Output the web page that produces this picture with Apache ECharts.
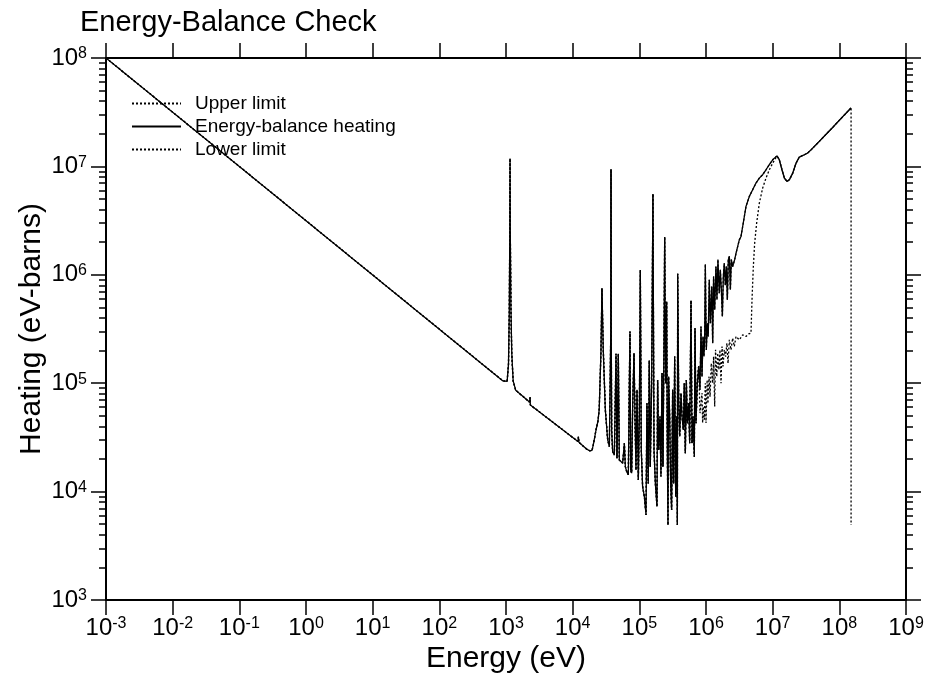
<!DOCTYPE html>
<html>
<head>
<meta charset="utf-8">
<title>Energy-Balance Check</title>
<script src="https://cdn.jsdelivr.net/npm/echarts@6/dist/echarts.min.js"></script>
<style>
  html, body { margin: 0; padding: 0; background: #fff; }
  #chart { width: 937px; height: 684px; }
</style>
</head>
<body>
<div id="chart"></div>
<script>
// Heating (eV-barns) against incident energy (eV).
// Shared part: 1/v region, resolved resonances and the unresolved band up to ~0.8 MeV.
const baseEnergy = [
  1e-3, 900, 960, 1040, 1090, 1120, 1140, 1150, 1160, 1185, 1220, 1280, 1400,
  2250, 2300, 2320, 2400, 1.2e4, 1.22e4, 1.24e4, 1.6e4, 1.8e4, 1.95e4,
  2.04e4, 2.24e4, 2.4e4, 2.5e4, 2.66e4, 2.75e4, 2.88e4, 3.09e4, 3.35e4, 3.55e4,
  3.68e4, 3.73e4, 3.76e4, 3.79e4, 3.85e4, 3.98e4,
  4.22e4, 4.47e4, 4.62e4, 4.84e4, 5.01e4, 5.31e4, 5.62e4, 5.96e4, 6.17e4, 6.46e4,
  6.84e4, 7.08e4, 7.24e4, 7.41e4, 7.67e4, 7.94e4, 8.32e4, 8.61e4, 8.91e4, 9.23e4,
  9.66e4, 1.0e5, 1.035e5, 1.07e5, 1.12e5, 1.19e5, 1.26e5, 1.30e5, 1.36e5, 1.41e5,
  1.46e5, 1.53e5, 1.60e5, 1.66e5, 1.74e5, 1.84e5, 1.88e5, 1.95e5, 2.04e5, 2.11e5,
  2.19e5, 2.26e5, 2.34e5, 2.40e5, 2.48e5, 2.57e5, 2.63e5, 2.69e5, 2.75e5, 2.85e5,
  2.95e5, 3.05e5, 3.16e5, 3.27e5, 3.39e5, 3.51e5, 3.63e5, 3.72e5, 3.76e5, 3.89e5,
  4.03e5, 4.22e5, 4.37e5, 4.57e5, 4.73e5, 4.90e5, 5.07e5, 5.25e5, 5.50e5, 5.69e5,
  5.96e5, 6.17e5, 6.38e5, 6.68e5, 6.84e5, 7.08e5, 7.41e5, 7.76e5
];
const baseHeating = [
  1e8, 1.05e5, 1.01e5, 1.04e5, 1.5e5, 4.5e5, 2.5e6, 1.18e7, 2.5e6, 5e5, 1.9e5, 1.05e5, 8.6e4,
  6.7e4, 7.4e4, 6.3e4, 6.45e4, 2.9e4, 3.2e4, 2.85e4, 2.48e4, 2.38e4, 2.4e4,
  2.7e4, 3.7e4, 4.5e4, 5.7e4, 2.0e5, 7.5e5, 2.0e5, 5.7e4, 3.0e4, 2.6e4,
  2.7e4, 3e5, 9.4e6, 3e5, 3.6e4, 2.34e4,
  2.18e4, 1.87e5, 2.03e4, 1.87e5, 1.96e4, 1.89e4, 1.83e4, 2.79e4, 1.70e4, 1.53e4,
  1.43e4, 1.0e5, 3.0e5, 1.58e4, 1.48e4, 6.09e4, 1.89e5, 4.92e4, 1.58e4, 8.68e4,
  1.28e4, 4.92e4, 1.11e6, 2.42e4, 1.11e4, 8.99e3, 6.09e3, 6.53e4, 1.19e4, 1.62e5,
  1.7e4, 1.0e5, 5.56e6, 2.42e4, 1.19e4, 7.27e3, 1.07e5, 2.42e4, 4.92e4, 1.38e4,
  1.24e5, 1.70e4, 2.03e5, 2.23e6, 1.0e5, 5.67e5, 2.42e4, 4.92e3, 1.15e5, 4.92e4,
  1.19e4, 6.77e3, 8.68e4, 1.19e4, 1.76e5, 8.99e3, 4.92e4, 4.92e3, 1.02e6, 7.53e4,
  3.22e4, 8.09e4, 4.92e4, 3.71e4, 1.0e5, 2.26e4, 1.07e5, 4.27e4, 6.53e4, 2.79e4,
  5.79e5, 2.79e4, 4.92e4, 2.10e4, 3.22e5, 4.27e4, 1.0e5, 1.43e5
];

// Energy-balance heating between 0.8 MeV and 10 MeV.
const heatingMidEnergy = [
  8.13e5, 8.41e5, 8.71e5, 9.02e5, 9.33e5, 9.55e5, 9.77e5, 1.01e6, 1.05e6, 1.08e6,
  1.12e6, 1.16e6, 1.22e6, 1.26e6, 1.30e6, 1.35e6, 1.41e6, 1.46e6, 1.51e6, 1.58e6,
  1.64e6, 1.70e6, 1.76e6, 1.82e6, 1.88e6, 1.95e6, 2.02e6, 2.09e6, 2.16e6, 2.24e6,
  2.32e6, 2.40e6, 2.51e6, 2.60e6, 2.69e6, 2.82e6, 2.99e6, 3.16e6, 3.35e6, 3.55e6,
  3.76e6, 3.98e6, 4.47e6, 5.01e6, 5.62e6, 6.31e6, 7.08e6, 7.94e6, 8.91e6, 1.0e7
];
const heatingMidValue = [
  8.68e4, 3.33e5, 1.15e5, 2.70e5, 1.76e5, 2.70e5, 1.25e6, 2.03e5, 3.58e5, 2.70e5,
  8.99e5, 3.58e5, 7.80e5, 2.34e5, 9.66e5, 4.75e5, 1.19e6, 5.88e5, 1.38e6, 6.77e5,
  1.11e6, 7.27e5, 4.12e5, 9.66e5, 1.28e6, 8.0e5, 1.19e6, 5.88e5, 1.38e6, 1.48e6,
  7.27e5, 1.38e6, 1.19e6, 1.28e6, 1.38e6, 1.58e6, 1.83e6, 2.10e6, 2.26e6, 2.79e6,
  3.45e6, 4.27e6, 5.29e6, 6.09e6, 7.02e6, 7.80e6, 8.38e6, 9.31e6, 1.04e7, 1.15e7
];

// Lower limit between 0.8 MeV and 10 MeV.
const lowerMidEnergy = [
  8.13e5, 8.41e5, 8.71e5, 8.9e5, 9.12e5, 9.45e5, 9.77e5, 1.0e6, 1.04e6, 1.07e6,
  1.11e6, 1.15e6, 1.2e6, 1.26e6, 1.30e6, 1.35e6, 1.39e6, 1.45e6, 1.50e6, 1.56e6,
  1.62e6, 1.68e6, 1.74e6, 1.8e6, 1.88e6, 1.97e6, 2.06e6, 2.14e6, 2.24e6, 2.37e6,
  2.51e6, 2.66e6, 2.82e6, 3.16e6, 3.55e6, 3.98e6, 4.37e6, 4.73e6, 4.90e6, 5.13e6,
  5.37e6, 5.75e6, 6.31e6, 7.08e6, 7.94e6, 8.91e6, 1.0e7
];
const lowerMidValue = [
  5.3e4, 6.5e4, 8.1e4, 4.3e4, 6.1e4, 4.6e4, 1.0e5, 4.3e4, 1.07e5, 6.5e4,
  1.15e5, 7.5e4, 1.53e5, 1.0e5, 1.76e5, 6.1e4, 2.03e5, 1.15e5, 1.89e5, 1.33e5,
  2.03e5, 1.0e5, 2.18e5, 1.43e5, 2.03e5, 1.76e5, 2.34e5, 1.53e5, 2.51e5, 2.03e5,
  2.60e5, 2.18e5, 2.70e5, 2.51e5, 2.79e5, 2.70e5, 2.85e5, 2.90e5, 5.88e5, 1.19e6,
  1.96e6, 3.0e6, 4.59e6, 6.31e6, 7.80e6, 9.31e6, 1.07e7
];

// Shared high-energy tail up to the 150 MeV end point.
const tailEnergy = [
  1.16e7, 1.26e7, 1.38e7, 1.50e7, 1.64e7, 1.78e7, 2.0e7, 2.24e7, 2.51e7, 2.99e7,
  3.35e7, 3.76e7, 5e7, 8e7, 1.2e8, 1.5e8
];
const tailHeating = [
  1.25e7, 1.15e7, 9.31e6, 7.80e6, 7.27e6, 7.53e6, 8.67e6, 1.07e7, 1.22e7, 1.28e7,
  1.33e7, 1.42e7, 1.7e7, 2.3e7, 3.0e7, 3.47e7
];

// Lower limit drops at the last energy point.
const cutoffEnergy = [1.5e8];
const cutoffValue = [4.93e3];

// Axis decades and minor tick multipliers.
const xDecades = [1e-3, 1e-2, 1e-1, 1e0, 1e1, 1e2, 1e3, 1e4, 1e5, 1e6, 1e7, 1e8, 1e9];
const yDecades = [1e3, 1e4, 1e5, 1e6, 1e7, 1e8];
const minorSteps = [2, 3, 4, 5, 6, 7, 8, 9];

const seriesNames = ['Upper limit', 'Energy-balance heating', 'Lower limit'];

function pairs(xs, ys) { return xs.map((x, i) => [x, ys[i]]); }

const heatingData = [].concat(
  pairs(baseEnergy, baseHeating),
  pairs(heatingMidEnergy, heatingMidValue),
  pairs(tailEnergy, tailHeating)
);
const upperData = heatingData.slice();
const lowerData = [].concat(
  pairs(baseEnergy, baseHeating),
  pairs(lowerMidEnergy, lowerMidValue),
  pairs(tailEnergy, tailHeating),
  pairs(cutoffEnergy, cutoffValue)
);

const yMinor = [];
yDecades.slice(0, -1).forEach(d => minorSteps.forEach(m => yMinor.push(m * d)));

const FONT = '"Liberation Sans", Arial, Helvetica, sans-serif';
const powerLabel = v => {
  const e = Math.round(Math.log10(v));
  return '{b|10}{s|' + e + '}';
};
const labelRich = {
  b: { fontSize: 24, fontFamily: FONT, color: '#000', verticalAlign: 'bottom' },
  s: { fontSize: 16, fontFamily: FONT, color: '#000', verticalAlign: 'top' }
};

const chart = echarts.init(document.getElementById('chart'), null, { renderer: 'canvas' });

const dotted = { color: '#000', width: 1.3, type: [2, 2] };
const solid = { color: '#000', width: 1.3, type: 'solid' };

function xAxisDef(pos, showLabel) {
  return {
    type: 'log', logBase: 10, min: 1e-3, max: 1e9, position: pos,
    axisLine: { show: true, onZero: false, lineStyle: { color: '#000', width: 2 } },
    axisTick: { show: true, inside: false, length: 15, customValues: xDecades,
      lineStyle: { color: '#000', width: 1.5 } },
    axisLabel: { show: showLabel, customValues: xDecades, formatter: powerLabel, rich: labelRich,
      margin: 16, showMinLabel: true, showMaxLabel: true, hideOverlap: false },
    splitLine: { show: false },
    minorTick: { show: false }
  };
}
function yAxisDef(pos, major, showLabel) {
  return {
    type: 'log', logBase: 10, min: 1e3, max: 1e8, position: pos,
    axisLine: { show: major, onZero: false, lineStyle: { color: '#000', width: 2 } },
    axisTick: { show: true, inside: false, length: major ? 15 : 7,
      customValues: major ? yDecades : yMinor,
      lineStyle: { color: '#000', width: 1.5 } },
    axisLabel: { show: showLabel, customValues: yDecades, formatter: powerLabel, rich: labelRich,
      margin: 19, showMinLabel: true, showMaxLabel: true, hideOverlap: false },
    splitLine: { show: false },
    minorTick: { show: false }
  };
}

const xMain = xAxisDef('bottom', true);
xMain.name = 'Energy (eV)';
xMain.nameLocation = 'middle';
xMain.nameGap = 44;
xMain.nameMoveOverlap = false;
xMain.nameTextStyle = { fontSize: 30, fontFamily: FONT, color: '#000' };

const yMain = yAxisDef('left', true, true);
yMain.name = 'Heating (eV-barns)';
yMain.nameLocation = 'middle';
yMain.nameGap = 59;
yMain.nameRotate = 90;
yMain.nameMoveOverlap = false;
yMain.nameTextStyle = { fontSize: 30, fontFamily: FONT, color: '#000' };

const option = {
  backgroundColor: '#fff',
  animation: false,
  title: {
    text: 'Energy-Balance Check', left: 75, top: 3,
    textStyle: { fontSize: 29, fontWeight: 'normal', fontFamily: FONT, color: '#000' }
  },
  legend: {
    data: seriesNames, orient: 'vertical', left: 126, top: 89,
    itemWidth: 49, itemHeight: 10, itemGap: 4,
    itemStyle: { opacity: 0 },
    textStyle: { fontSize: 19, fontFamily: FONT, color: '#000', padding: [0, 0, 0, 9] },
    selectedMode: false
  },
  grid: { left: 106, right: 31, top: 58, bottom: 84, containLabel: false, outerBoundsMode: 'none' },
  xAxis: [xMain, xAxisDef('top', false)],
  yAxis: [
    yMain,
    yAxisDef('left', false, false),
    yAxisDef('right', true, false),
    yAxisDef('right', false, false)
  ],
  series: [
    { name: seriesNames[0], type: 'line', xAxisIndex: 0, yAxisIndex: 0, data: upperData,
      symbol: 'none', showSymbol: false, lineStyle: dotted, itemStyle: { color: '#000' }, z: 2 },
    { name: seriesNames[1], type: 'line', xAxisIndex: 0, yAxisIndex: 0, data: heatingData,
      symbol: 'none', showSymbol: false, lineStyle: solid, itemStyle: { color: '#000' }, z: 3 },
    { name: seriesNames[2], type: 'line', xAxisIndex: 0, yAxisIndex: 0, data: lowerData,
      symbol: 'none', showSymbol: false, lineStyle: dotted, itemStyle: { color: '#000' }, z: 2 }
  ]
};

chart.setOption(option);
</script>
</body>
</html>
